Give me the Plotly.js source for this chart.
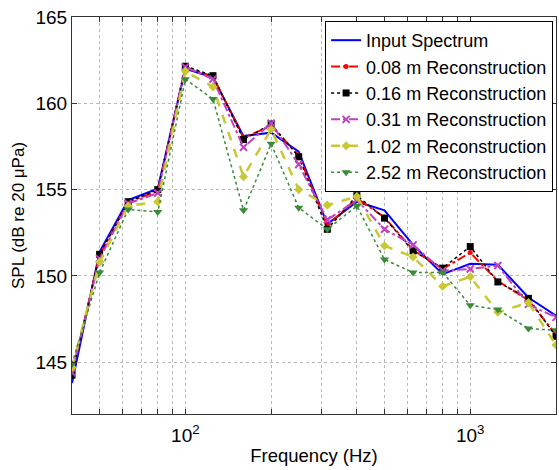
<!DOCTYPE html>
<html>
<head>
<meta charset="utf-8">
<script src="https://cdn.plot.ly/plotly-3.0.1.min.js"></script>
<style>html,body{margin:0;padding:0;background:#fff;}#chart{width:559px;height:470px;}</style>
</head>
<body>
<div id="chart"></div>
<script>
const freq = [40,50,63,80,100,125,160,200,250,315,400,500,630,800,1000,1250,1600,2000];
const inputSpectrum = [143.8,151.4,154.4,155.05,162.0,161.5,158.1,158.3,157.2,153.0,154.3,153.8,151.8,150.1,150.7,150.65,148.75,147.7];
const rec008 = [144.3,151.2,154.3,154.9,162.1,161.55,158.0,158.7,157.0,152.9,154.5,153.4,151.5,150.4,151.35,149.7,148.6,146.6];
const rec016 = [144.25,151.25,154.3,155.0,162.15,161.6,157.9,158.8,156.9,152.7,154.65,153.35,151.45,150.45,151.7,149.65,148.7,146.5];
const rec031 = [144.4,151.0,154.2,154.8,162.1,161.4,157.45,158.85,156.45,153.25,154.4,152.7,151.8,150.3,150.4,150.6,148.35,147.6];
const rec102 = [144.7,150.8,154.05,154.3,161.85,160.95,155.75,158.5,155.0,154.1,154.6,151.75,151.1,149.4,149.95,147.9,148.45,146.0];
const rec252 = [144.9,150.2,153.85,153.7,161.4,160.25,153.8,157.65,153.95,152.7,154.05,150.95,150.2,150.2,148.3,148.05,146.95,146.85];

const seriesNames = ['Input Spectrum','0.08 m Reconstruction','0.16 m Reconstruction','0.31 m Reconstruction','1.02 m Reconstruction','2.52 m Reconstruction'];

const xTickVals = [50,60,70,80,90,100,200,300,400,500,600,700,800,900,1000,2000];
const xTickText = xTickVals.map(v => v===100 ? '10<sup>2</sup>' : (v===1000 ? '10<sup>3</sup>' : ''));
const yTickVals = [145,150,155,160,165];

const traces = [
  {x:freq, y:inputSpectrum, name:seriesNames[0], mode:'lines', line:{color:'#0000ff', width:2}},
  {x:freq, y:rec008, name:seriesNames[1], mode:'lines+markers', line:{color:'#ff0000', width:2, dash:'dashdot'}, marker:{symbol:'circle', size:5, color:'#ff0000'}},
  {x:freq, y:rec016, name:seriesNames[2], mode:'lines+markers', line:{color:'#000000', width:1.5, dash:'dot'}, marker:{symbol:'square', size:7, color:'#000000'}},
  {x:freq, y:rec031, name:seriesNames[3], mode:'lines+markers', line:{color:'#c040c0', width:2, dash:'dashdot'}, marker:{symbol:'x-thin-open', size:7, color:'#c040c0', line:{width:2, color:'#c040c0'}}},
  {x:freq, y:rec102, name:seriesNames[4], mode:'lines+markers', line:{color:'#c8c832', width:2.5, dash:'dash'}, marker:{symbol:'diamond', size:7, color:'#c8c832'}},
  {x:freq, y:rec252, name:seriesNames[5], mode:'lines+markers', line:{color:'#3a8a3a', width:1.5, dash:'dot'}, marker:{symbol:'triangle-down', size:8, color:'#3a8a3a'}}
];

const layout = {
  width:559, height:470,
  margin:{l:72, r:3, t:17, b:56},
  paper_bgcolor:'#fff', plot_bgcolor:'#fff',
  font:{family:'Arial, "Liberation Sans", sans-serif', size:19, color:'#000'},
  showlegend:true,
  legend:{x:0.994, y:0.99, xanchor:'right', yanchor:'top', bgcolor:'#fff', bordercolor:'#000', borderwidth:1, font:{size:18}, itemwidth:30, tracegroupgap:0},
  xaxis:{type:'log', range:[Math.log10(40), Math.log10(2000)], tickmode:'array', tickvals:xTickVals, ticktext:xTickText,
    tickangle:0, ticklabelstandoff:4,
    showgrid:true, gridcolor:'#b8b8b8', griddash:'dot', gridwidth:1, showline:true, linecolor:'#333', linewidth:1, mirror:'ticks',
    ticks:'inside', ticklen:5, tickcolor:'#333', zeroline:false,
    title:{text:'Frequency (Hz)', font:{size:18.5}, standoff:4}},
  yaxis:{range:[142,165], tickmode:'array', tickvals:yTickVals, ticktext:yTickVals.map(String),
    showgrid:true, gridcolor:'#b8b8b8', griddash:'dot', gridwidth:1, showline:true, linecolor:'#333', linewidth:1, mirror:'ticks',
    ticks:'inside', ticklen:5, tickcolor:'#333', zeroline:false,
    title:{text:'SPL (dB re 20 \u03bcPa)', font:{size:17}, standoff:6}}
};

Plotly.newPlot('chart', traces, layout, {displayModeBar:false, staticPlot:true});
</script>
</body>
</html>
